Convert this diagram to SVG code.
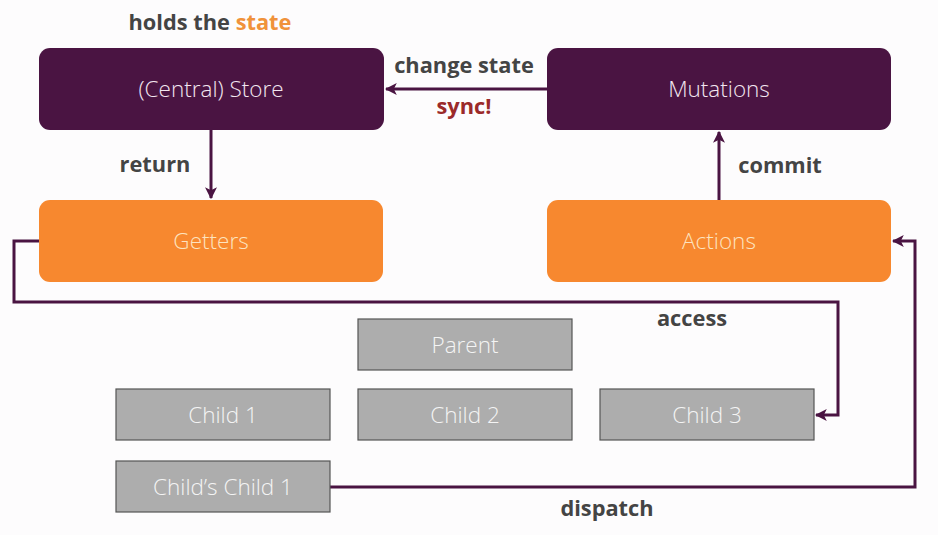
<svg xmlns="http://www.w3.org/2000/svg" width="938" height="535" viewBox="0 0 938 535">
<defs>
<style>
.dark{fill:#4a1442}
.orange{fill:#f7882f}
.grey{fill:#adadad;stroke:#555;stroke-width:1.2}
.nl{font-family:"Open Sans","Liberation Sans",sans-serif;font-weight:300;font-size:22.5px;text-anchor:middle;dominant-baseline:central}
.nl.w{fill:#f3e6f0}
.nl.o{fill:#fde3bf}
.nl.g{fill:#f4f4f4}
.lb{font-family:"Open Sans","Liberation Sans",sans-serif;font-weight:700;font-size:21.8px;fill:#444;text-anchor:middle}
.conn{fill:none;stroke:#4a1442;stroke-width:3}
</style>
<marker id="arr" viewBox="0 0 10 10" refX="9" refY="5" markerWidth="4" markerHeight="4" orient="auto-start-reverse" markerUnits="strokeWidth">
<path d="M0,0 L10,5 L0,10 L2.5,5 Z" fill="#4a1442"/>
</marker>
</defs>
<rect width="938" height="535" fill="#fdfcfd"/>
<g id="connectors">
<path class="conn" d="M547,89 H386" marker-end="url(#arr)"/>
<path class="conn" d="M211,130 V198" marker-end="url(#arr)"/>
<path class="conn" d="M719,200 V132" marker-end="url(#arr)"/>
<path class="conn" d="M39,241 H14 V302 H838 V415 H816" marker-end="url(#arr)"/>
<path class="conn" d="M330,487 H915 V241 H893" marker-end="url(#arr)"/>
</g>
<g id="store"><rect class="dark" x="39" y="48" width="345" height="82" rx="11"/><text class="nl w" x="211" y="88">(Central) Store</text></g>
<g id="mutations"><rect class="dark" x="547" y="48" width="344" height="82" rx="11"/><text class="nl w" x="719" y="88">Mutations</text></g>
<g id="getters"><rect class="orange" x="39" y="200" width="344" height="82" rx="11"/><text class="nl o" x="211" y="240">Getters</text></g>
<g id="actions"><rect class="orange" x="547" y="200" width="344" height="82" rx="11"/><text class="nl o" x="719" y="240">Actions</text></g>
<g id="parent"><rect class="grey" x="358" y="319" width="214" height="51"/><text class="nl g" x="465" y="344">Parent</text></g>
<g id="child1"><rect class="grey" x="116" y="389" width="214" height="51"/><text class="nl g" x="223" y="414">Child 1</text></g>
<g id="child2"><rect class="grey" x="358" y="389" width="214" height="51"/><text class="nl g" x="465" y="414">Child 2</text></g>
<g id="child3"><rect class="grey" x="600" y="389" width="214" height="51"/><text class="nl g" x="707" y="414">Child 3</text></g>
<g id="childschild1"><rect class="grey" x="116" y="461" width="214" height="51"/><text class="nl g" x="223" y="486">Child’s Child 1</text></g>
<g id="labels">
<text class="lb" x="210" y="30">holds the <tspan fill="#f0923a">state</tspan></text>
<text class="lb" x="464" y="73">change state</text>
<text class="lb" x="464" y="114" style="fill:#9b2a2a">sync!</text>
<text class="lb" x="155" y="172">return</text>
<text class="lb" x="780" y="173">commit</text>
<text class="lb" x="692" y="326">access</text>
<text class="lb" x="607" y="516">dispatch</text>
</g>
</svg>
